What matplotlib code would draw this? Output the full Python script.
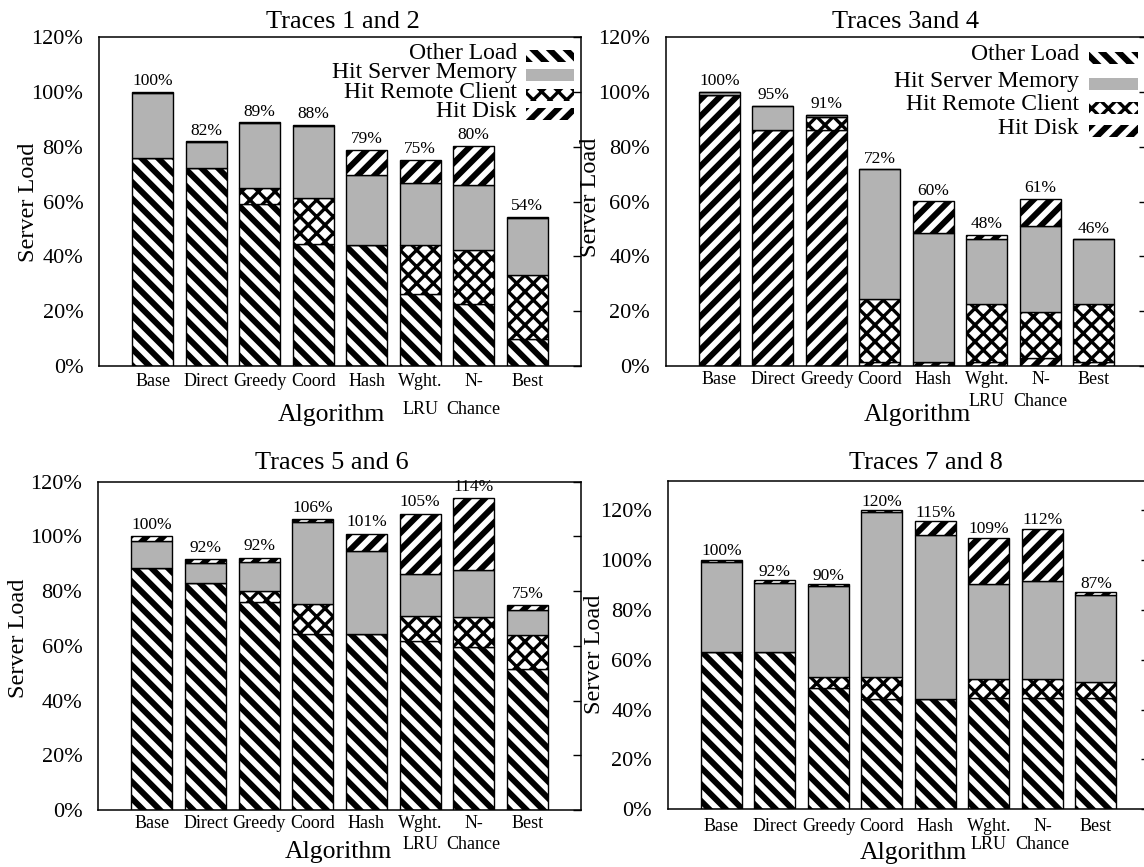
import matplotlib
matplotlib.use("Agg")
import matplotlib.pyplot as plt
from matplotlib.patches import Rectangle
import numpy as np

# ---------------- data ----------------
algorithms = ["Base", "Direct", "Greedy", "Coord", "Hash", "Wght.\nLRU", "N-\nChance", "Best"]
series_names = ["Other Load", "Hit Server Memory", "Hit Remote Client", "Hit Disk"]
ytick_values = [0, 20, 40, 60, 80, 100, 120]
ytick_labels = ["0%", "20%", "40%", "60%", "80%", "100%", "120%"]
titles = ["Traces 1 and 2", "Traces 3and 4", "Traces 5 and 6", "Traces 7 and 8"]

t12_other = [76.0, 72.3, 59.3, 44.5, 44.0, 26.2, 22.5, 9.7]
t12_remote = [0, 0, 5.6, 16.7, 0, 17.9, 19.8, 23.6]
t12_memory = [23.7, 9.4, 23.7, 26.5, 25.9, 22.7, 23.6, 20.8]
t12_disk = [0.3, 0.3, 0.4, 0.3, 9.0, 8.4, 14.4, 0.3]
t12_labels = ["100%", "82%", "89%", "88%", "79%", "75%", "80%", "54%"]

t34_other = [99.1, 86.2, 86.2, 1.5, 1.5, 1.5, 3.0, 1.5]
t34_remote = [0, 0, 4.7, 23.1, 0, 21.3, 16.8, 21.3]
t34_memory = [0.9, 8.9, 0.8, 47.2, 47.2, 23.5, 31.2, 23.4]
t34_disk = [0, 0, 0, 0, 11.5, 1.7, 10.0, 0]
t34_labels = ["100%", "95%", "91%", "72%", "60%", "48%", "61%", "46%"]

t56_other = [88.4, 82.9, 76.2, 64.4, 64.4, 61.6, 59.4, 51.5]
t56_remote = [0, 0, 4.0, 10.8, 0, 9.4, 11.3, 12.6]
t56_memory = [10.1, 7.3, 10.5, 30.2, 30.4, 15.1, 17.1, 9.1]
t56_disk = [1.5, 1.5, 1.5, 0.8, 6.1, 22.1, 26.2, 1.6]
t56_labels = ["100%", "92%", "92%", "106%", "101%", "105%", "114%", "75%"]

t78_other = [62.9, 62.9, 48.5, 44.2, 44.2, 44.8, 44.8, 44.5]
t78_remote = [0, 0, 4.6, 8.9, 0, 7.3, 7.3, 6.7]
t78_memory = [36.1, 28.0, 36.3, 66.0, 65.8, 38.4, 39.6, 34.9]
t78_disk = [1.0, 0.9, 0.9, 0.9, 5.6, 18.5, 20.8, 0.9]
t78_labels = ["100%", "92%", "90%", "120%", "115%", "109%", "112%", "87%"]

panels_data = [
    (t12_other, t12_remote, t12_memory, t12_disk, t12_labels),
    (t34_other, t34_remote, t34_memory, t34_disk, t34_labels),
    (t56_other, t56_remote, t56_memory, t56_disk, t56_labels),
    (t78_other, t78_remote, t78_memory, t78_disk, t78_labels),
]

# ---------------- style / layout ----------------
W, H = 1144, 867
FONT = "Liberation Serif"
plt.rcParams["font.family"] = [FONT, "DejaVu Serif"]
GRAY = "#b3b3b3"
STRIPE_LW = 4.3
CROSS_LW = 2.4
HATCH_BACK = "\\\\"
HATCH_FWD = "//"
HATCH_CROSS = "xx"

fig = plt.figure(figsize=(W / 100, H / 100), dpi=100)
fig.patch.set_facecolor("white")


def fx(x):
    return x / W


def fy(y):
    return 1 - y / H


layout = [
    dict(box=(99.3, 580.7, 37.3, 366.0), ymax=120, title=(343, 21.7), ylab=(28, 202),
         xlab=(331, 415), xpad=5.0, lsp=1.85, loff=10.6, other_hatch=HATCH_BACK),
    dict(box=(666.0, 1147.4, 37.3, 366.0), ymax=120, title=(906, 21.7), ylab=(590, 197),
         xlab=(917, 415), xpad=3.6, lsp=1.35, loff=10.6, other_hatch=HATCH_FWD),
    dict(box=(98.3, 581.0, 481.7, 810.0), ymax=120, title=(332, 463.3), ylab=(19, 638),
         xlab=(338, 852), xpad=3.4, lsp=1.35, loff=11.5, other_hatch=HATCH_BACK),
    dict(box=(668.0, 1149.4, 480.7, 809.3), ymax=131.8, title=(926, 463.3), ylab=(594, 654),
         xlab=(913, 853), xpad=6.3, lsp=1.1, loff=8.5, other_hatch=HATCH_BACK),
]

x = np.arange(len(algorithms))
BAR_W = 0.766


def draw_bars(ax, vals, bottom, face, hatch, hlw):
    with plt.rc_context({"hatch.linewidth": hlw}):
        bars = ax.bar(x, vals, bottom=bottom, width=BAR_W, color=face, edgecolor="black",
                      hatch=hatch, linewidth=1.0, zorder=2)
    for b in bars:
        if hasattr(b, "set_hatch_linewidth"):
            b.set_hatch_linewidth(hlw)
    return bars


for i, (data, lay) in enumerate(zip(panels_data, layout)):
    other, remote, memory, disk, labels = data
    l, r, t, b = lay["box"]
    ax = fig.add_axes([fx(l), fy(b), (r - l) / W, (b - t) / H])
    ax.set_xlim(-1, 8)
    ax.set_ylim(0, lay["ymax"])

    other_a = np.array(other)
    remote_a = np.array(remote)
    memory_a = np.array(memory)
    disk_a = np.array(disk)

    draw_bars(ax, other_a, 0, "white", lay["other_hatch"], STRIPE_LW)
    draw_bars(ax, remote_a, other_a, "white", HATCH_CROSS, CROSS_LW)
    draw_bars(ax, memory_a, other_a + remote_a, GRAY, None, 0.5)
    draw_bars(ax, disk_a, other_a + remote_a + memory_a, "white", HATCH_FWD, STRIPE_LW)

    totals = other_a + remote_a + memory_a + disk_a
    for xi, tot, lab in zip(x, totals, labels):
        ax.annotate(lab, (xi, tot), xytext=(0, lay["loff"] * 0.72), textcoords="offset points",
                    ha="center", va="center", fontsize=12.5, family=FONT)

    ax.set_yticks(ytick_values)
    ax.set_yticklabels(ytick_labels, fontsize=16, family=FONT)
    ax.tick_params(axis="y", left=False, right=True, direction="in", length=5.8, width=1.0,
                   pad=11.5, labelleft=True, labelright=False)
    ax.set_xticks(x)
    ax.set_xticklabels(algorithms, fontsize=13, family=FONT, linespacing=lay["lsp"])
    ax.tick_params(axis="x", length=0, pad=lay["xpad"])
    for sp in ax.spines.values():
        sp.set_linewidth(1.1)
        sp.set_color("black")

    fig.text(fx(lay["title"][0]), fy(lay["title"][1]), titles[i], ha="center", va="center",
             fontsize=19, family=FONT)
    fig.text(fx(lay["ylab"][0]), fy(lay["ylab"][1]), "Server Load", rotation=90, ha="center",
             va="center", fontsize=17.5, family=FONT)
    fig.text(fx(lay["xlab"][0]), fy(lay["xlab"][1]), "Algorithm", ha="center", va="center",
             fontsize=18.5, family=FONT)

# ---------------- legends (top panels) ----------------
legend_specs = [
    dict(text_right=517, patch=(526, 574), rows=[53.3, 72.7, 92.7, 111.7], ph=12),
    dict(text_right=1079, patch=(1089, 1138), rows=[55, 81, 105, 128], ph=12),
]
legend_styles = [
    ("white", HATCH_BACK, STRIPE_LW),
    (GRAY, None, 0.5),
    ("white", HATCH_CROSS, CROSS_LW),
    ("white", HATCH_FWD, STRIPE_LW),
]
for spec in legend_specs:
    p0, p1 = spec["patch"]
    for name, row, (face, hatch, hlw) in zip(series_names, spec["rows"], legend_styles):
        fig.text(fx(spec["text_right"]), fy(row), name, ha="right", va="center",
                 fontsize=17, family=FONT)
        yc = row + 2.5
        with plt.rc_context({"hatch.linewidth": hlw}):
            rect = Rectangle((fx(p0), fy(yc + spec["ph"] / 2)), (p1 - p0) / W, spec["ph"] / H,
                             transform=fig.transFigure, facecolor=face, edgecolor="black",
                             linewidth=0, hatch=hatch)
        if hasattr(rect, "set_hatch_linewidth"):
            rect.set_hatch_linewidth(hlw)
        fig.add_artist(rect)

fig.savefig("out.png", dpi=100)
